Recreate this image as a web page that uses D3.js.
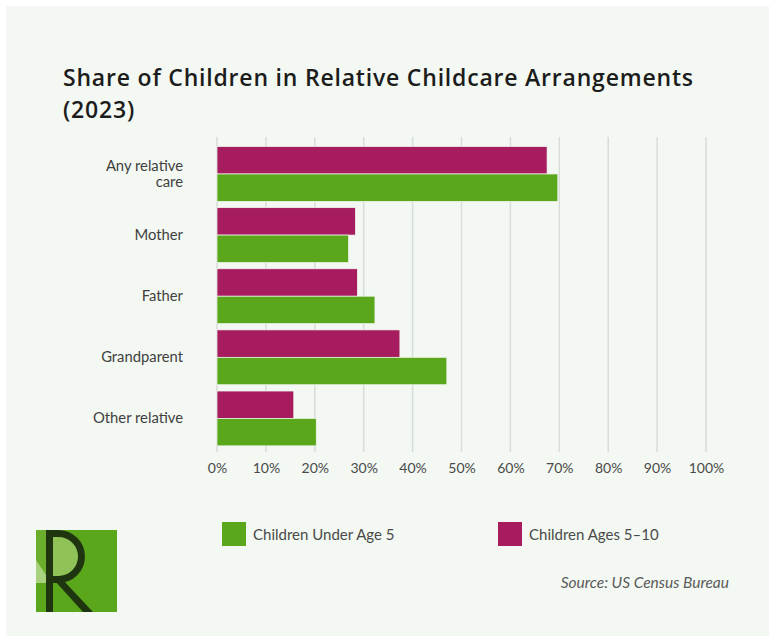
<!DOCTYPE html>
<html>
<head>
<meta charset="utf-8">
<script src="https://cdn.jsdelivr.net/npm/d3@7/dist/d3.min.js"></script>
<style>
  html, body { margin: 0; padding: 0; background: #ffffff; }
  svg { display: block; font-family: Lato, "Open Sans", sans-serif; }
</style>
</head>
<body>
<svg id="chart" width="769" height="636"></svg>
<script>
// ---- Data ----
const categories = ["Any relative care", "Mother", "Father", "Grandparent", "Other relative"];
const childrenUnder5 = [69.7, 26.9, 32.3, 47.0, 20.3];
const childrenAges5to10 = [67.5, 28.3, 28.7, 37.4, 15.7];
const seriesNames = ["Children Ages 5–10", "Children Under Age 5"];
const legendNames = ["Children Under Age 5", "Children Ages 5–10"];
const xTicks = [0, 10, 20, 30, 40, 50, 60, 70, 80, 90, 100];
const titleLines = ["Share of Children in Relative Childcare Arrangements", "(2023)"];
const sourceText = "Source: US Census Bureau";

const colors = { "Children Under Age 5": "#5ba71b", "Children Ages 5–10": "#a71c5e" };

const svg = d3.select("#chart");
const W = 769, H = 636;

// panel
svg.append("rect").attr("x", 6).attr("y", 6).attr("width", W - 6).attr("height", H - 6)
  .attr("fill", "#f3f8f2");

// title (two separate lines)
const titleFont = "'Open Sans', Lato, sans-serif";
const titleTexts = titleLines.map((t, i) => svg.append("text")
  .attr("x", 63).attr("y", 86 + i * 31.6)
  .attr("font-family", titleFont)
  .attr("font-size", 23).attr("font-weight", 600).attr("fill", "#1c1c1c").text(t));
{
  const w = titleTexts[0].node().getComputedTextLength();
  const n = titleLines[0].length;
  if (w > 0 && w < 630) {
    const ls = Math.min(1.2, (630 - w) / (n - 1));
    titleTexts.forEach(t => t.attr("letter-spacing", ls));
  }
}

// scales
const x = d3.scaleLinear().domain([0, 100]).range([217, 706]);
const y = d3.scaleBand().domain(categories).range([143.5, 448.9]).paddingInner(0.103).paddingOuter(0.05);
const ySub = d3.scaleBand().domain(seriesNames).range([0, y.bandwidth()]).padding(0);

// gridlines
svg.append("g").selectAll("line").data(xTicks).join("line")
  .attr("x1", d => x(d)).attr("x2", d => x(d))
  .attr("y1", 137).attr("y2", 452)
  .attr("stroke", "#d9ddd9").attr("stroke-width", 1.5);

// bars
const rows = categories.map((c, i) => ({
  cat: c,
  vals: [
    { s: "Children Ages 5–10", v: childrenAges5to10[i] },
    { s: "Children Under Age 5", v: childrenUnder5[i] }
  ]
}));
const g = svg.append("g").selectAll("g").data(rows).join("g")
  .attr("transform", d => `translate(0,${y(d.cat)})`);
g.selectAll("rect").data(d => d.vals).join("rect")
  .attr("x", x(0))
  .attr("y", d => ySub(d.s))
  .attr("width", d => x(d.v) - x(0))
  .attr("height", ySub.bandwidth())
  .attr("fill", d => colors[d.s])
  .attr("stroke", "#f3f8f2").attr("stroke-width", 0.7);

// x axis
const xAxis = svg.append("g").attr("transform", "translate(0,460)")
  .call(d3.axisBottom(x).tickValues(xTicks).tickFormat(d => d + "%").tickSize(0));
xAxis.select(".domain").remove();
xAxis.selectAll("text").attr("font-size", 14).attr("fill", "#4a4a4a")
  .attr("font-family", "Lato, sans-serif").attr("dy", "0.71em");

// y axis labels
const yAxis = svg.append("g").attr("transform", "translate(183,0)")
  .call(d3.axisLeft(y).tickSize(0).tickPadding(0));
yAxis.select(".domain").remove();
yAxis.selectAll("text").attr("font-size", 14.8).attr("fill", "#3f3f3f")
  .attr("font-family", "Lato, sans-serif")
  .each(function(d) {
    const el = d3.select(this);
    const words = d.split(" ");
    if (d.length > 14) {
      el.text(null);
      const l1 = words.slice(0, 2).join(" "), l2 = words.slice(2).join(" ");
      el.append("tspan").attr("x", 0).attr("dy", "-0.22em").text(l1);
      el.append("tspan").attr("x", 0).attr("dy", "1.1em").text(l2);
    }
  });

// legend
const legend = svg.append("g");
const legendX = [222, 498];
legendNames.forEach((n, i) => {
  legend.append("rect").attr("x", legendX[i]).attr("y", 522).attr("width", 24).attr("height", 24)
    .attr("fill", colors[n]);
  legend.append("text").attr("x", legendX[i] + 31).attr("y", 540)
    .attr("font-size", 15).attr("fill", "#4a4a4a").text(n);
});

// source
svg.append("text").attr("x", 729).attr("y", 588).attr("text-anchor", "end")
  .attr("font-size", 15.5).attr("font-style", "italic").attr("fill", "#5a5a5a").text(sourceText);

// logo
const logo = svg.append("g").attr("transform", "translate(36,530)");
logo.append("rect").attr("width", 81).attr("height", 82).attr("fill", "#5ba71b");
logo.append("path").attr("d", "M0,0 L10,0 L10,45 L0,30 Z").attr("fill", "#6aae2c");
logo.append("path").attr("d", "M0,30 L10,45 L10,53 L0,53 Z").attr("fill", "#a9d27f");
logo.append("path").attr("d", "M10,0 L22,0 A26.5,26.5 0 0 1 22,53 L10,53 Z").attr("fill", "#8fc257");
logo.append("path").attr("d", "M10,45 L17,53 L10,53 Z").attr("fill", "#e8f3dc");
logo.append("path")
  .attr("d", "M10,0 L22.5,0 A26.5,26.5 0 0 1 22.5,53 L17,53 L17,46 L22.5,46 A19.5,19.5 0 0 0 22.5,7 L17,7 L17,82 L10,82 Z")
  .attr("fill", "#1e3510");
logo.append("path").attr("d", "M18,50 L27,50 L57,82 L47,82 Z").attr("fill", "#1e3510");
</script>
</body>
</html>
